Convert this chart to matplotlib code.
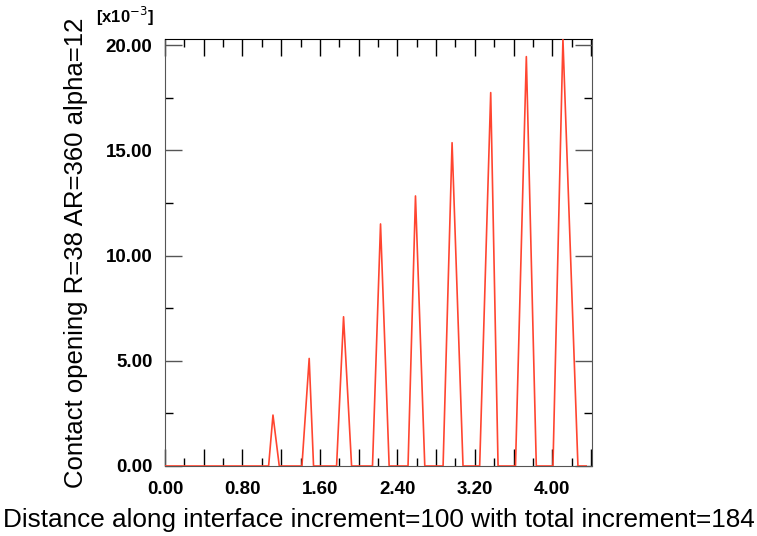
import numpy as np
import matplotlib
matplotlib.use('Agg')
import matplotlib.pyplot as plt
from matplotlib import rcParams
from matplotlib.ticker import MultipleLocator

rcParams['font.family'] = ['Liberation Sans', 'DejaVu Sans']

# contact opening peaks (values in units of 1e-3)
peak_left = [1.07, 1.414, 1.772, 2.143, 2.51, 2.872, 3.25, 3.62, 4.007]
peak_apex = [1.115, 1.489, 1.844, 2.226, 2.587, 2.965, 3.364, 3.732, 4.11]
peak_right = [1.18, 1.534, 1.927, 2.315, 2.683, 3.078, 3.44, 3.835, 4.265]
peak_height = [2.42, 5.11, 7.09, 11.5, 12.83, 15.36, 17.74, 19.45, 20.27]
x_start, x_end = 0.0, 4.35

# build the polyline along the interface
xs = [x_start]
ys = [0.0]
for l, a, r, h in zip(peak_left, peak_apex, peak_right, peak_height):
    xs += [l, a, r]
    ys += [0.0, h, 0.0]
xs.append(x_end)
ys.append(0.0)

fig = plt.figure(figsize=(7.57, 5.36), dpi=100)
ax = fig.add_axes([0.218, 0.1306, 0.564, 0.796])

ax.plot(xs, ys, color='#ff4530', linewidth=1.2, zorder=3)

ax.set_xlim(0, 4.41)
ax.set_ylim(0, 20.27)

xt = np.arange(0, 4.41, 0.4)
ax.set_xticks(xt)
ax.set_xticklabels(['%.2f' % v if i % 2 == 0 else '' for i, v in enumerate(xt)])
ax.xaxis.set_minor_locator(MultipleLocator(0.2))
ax.set_yticks([0, 5, 10, 15, 20])
ax.set_yticklabels(['0.00', '5.00', '10.00', '15.00', '20.00'])
ax.yaxis.set_minor_locator(MultipleLocator(2.5))

ax.tick_params(which='both', direction='in', top=True, right=True, width=1)
ax.tick_params(which='major', length=12, pad=9)
ax.tick_params(which='minor', length=6)
ax.tick_params(axis='x', colors='black', pad=11)
ax.tick_params(axis='y', color='#555555')
for lab in ax.get_xticklabels() + ax.get_yticklabels():
    lab.set_fontsize(13.5)
    lab.set_fontweight('bold')

for s in ['left', 'right', 'bottom']:
    ax.spines[s].set_color('#555555')
ax.spines['top'].set_color('black')

ax.set_xlabel('Distance along interface increment=100 with total increment=184', fontsize=18.8, labelpad=7)
ax.set_ylabel('Contact opening R=38 AR=360 alpha=12', fontsize=18.5, labelpad=13)

fig.text(0.127, 0.957, r'[x10$^{-3}$]', fontsize=12, fontweight='bold')

fig.savefig('out.png', dpi=100)
